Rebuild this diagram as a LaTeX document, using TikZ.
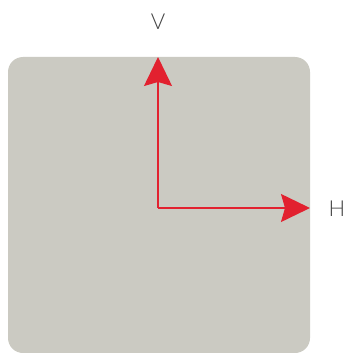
\documentclass[tikz,border=0pt]{standalone}
\usepackage{fontspec}
\setmainfont{Lato Light}
\usetikzlibrary{arrows.meta}
\definecolor{panel}{HTML}{CBCAC2}
\definecolor{axred}{HTML}{E2212F}
\definecolor{labelgrey}{HTML}{444444}
\tikzset{
  axis/.style={draw=axred, line width=1.3pt, -{Stealth[length=29pt,width=28pt,inset=4pt,fill=axred]}},
  axlabel/.style={text=labelgrey, font=\fontsize{22}{26}\selectfont, inner sep=0pt}
}
\begin{document}
\begin{tikzpicture}[x=1pt,y=-1pt]
\useasboundingbox (0,0) rectangle (345,353);
\fill[panel, rounded corners=15pt] (8,57) rectangle (310,353);
\coordinate (o) at (158,208);
\coordinate (vtip) at (158,57);
\coordinate (htip) at (310,208);
\draw[axis] (o) -- (vtip);
\draw[axis] (o) -- (htip);
\node[axlabel] (v) at (158,22) {V};
\node[axlabel] (h) at (337,209) {H};
\end{tikzpicture}
\end{document}
